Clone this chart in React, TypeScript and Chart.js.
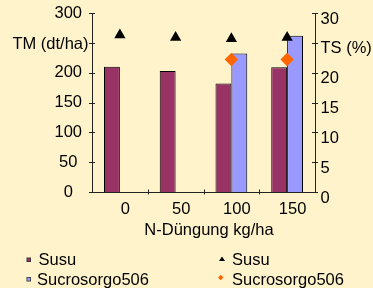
import React, { useEffect, useRef } from "react";
import { Chart, registerables } from "chart.js";

Chart.register(...registerables);

const categories = ["0", "50", "100", "150"];
const tmSusu = [210, 203, 182, 209];
const tmSucro = [null, null, 232, 262];
const tsSusu = [26.3, 25.9, 25.7, 25.9];
const tsSucro = [null, null, 22.2, 22.2];
const leftTicks = [0, 50, 100, 150, 200, 250, 300];
const rightTicks = [0, 5, 10, 15, 20, 25, 30];
const leftTitle = "TM (dt/ha)";
const rightTitle = "TS (%)";
const xTitle = "N-Düngung kg/ha";

const FONT = '"Liberation Sans", Arial, sans-serif';
const BG = "#FFF3CC";

const decorPlugin = {
  id: "decor",
  afterDraw(chart: any) {
    const ctx = chart.ctx;
    const x = chart.scales.x;
    const y = chart.scales.y;
    const y1 = chart.scales.y1;
    const area = chart.chartArea;
    ctx.save();
    ctx.strokeStyle = "#222";
    ctx.lineWidth = 1;
    leftTicks.forEach((v) => {
      const p = Math.round(y.getPixelForValue(v)) + 0.5;
      ctx.beginPath();
      ctx.moveTo(area.left - 3, p);
      ctx.lineTo(area.left + 3, p);
      ctx.stroke();
    });
    rightTicks.forEach((v) => {
      const p = Math.round(y1.getPixelForValue(v)) + 0.5;
      ctx.beginPath();
      ctx.moveTo(area.right - 3, p);
      ctx.lineTo(area.right + 3, p);
      ctx.stroke();
    });
    for (let i = 0; i < categories.length - 1; i++) {
      const p = Math.round((x.getPixelForValue(i) + x.getPixelForValue(i + 1)) / 2) + 0.5;
      ctx.beginPath();
      ctx.moveTo(p, area.bottom - 2.5);
      ctx.lineTo(p, area.bottom + 2.5);
      ctx.stroke();
    }
    ctx.fillStyle = "#000";
    ctx.font = `16.5px ${FONT}`;
    ctx.textBaseline = "middle";
    ctx.textAlign = "right";
    ctx.fillText(leftTitle, 88.5, y.getPixelForValue(250) + 1.5);
    ctx.textAlign = "center";
    ctx.fillText(xTitle, (area.left + area.right) / 2 + 5.5, 230.5);

    const ds = chart.data.datasets;
    ctx.textAlign = "left";
    const drawSquare = (cx: number, cy: number, fill: string) => {
      ctx.fillStyle = "#333";
      ctx.fillRect(cx - 2, cy - 2, 4.5, 4.5);
      ctx.fillStyle = fill;
      ctx.fillRect(cx - 1.2, cy - 1.2, 2.9, 2.9);
    };
    drawSquare(28.5, 259.5, ds[2].backgroundColor);
    drawSquare(28.5, 279, ds[3].backgroundColor);
    ctx.fillStyle = "#000";
    ctx.fillText(ds[2].label, 38.5, 260);
    ctx.fillText(ds[3].label, 37, 280);
    ctx.fillStyle = ds[0].backgroundColor;
    ctx.beginPath();
    ctx.moveTo(222, 256.5);
    ctx.lineTo(225, 261);
    ctx.lineTo(219, 261);
    ctx.closePath();
    ctx.fill();
    ctx.fillStyle = ds[1].backgroundColor;
    ctx.beginPath();
    ctx.moveTo(220.7, 274.8);
    ctx.lineTo(223.4, 277.5);
    ctx.lineTo(220.7, 280.2);
    ctx.lineTo(218, 277.5);
    ctx.closePath();
    ctx.fill();
    ctx.fillStyle = "#000";
    ctx.fillText(ds[0].label, 232, 260);
    ctx.fillText(ds[1].label, 232, 280);
    ctx.restore();
  },
};

export default function App() {
  const ref = useRef<HTMLCanvasElement>(null);
  useEffect(() => {
    if (!ref.current) return;
    const chart = new Chart(ref.current, {
      type: "bar",
      data: {
        labels: categories,
        datasets: [
          {
            type: "line",
            label: "Susu",
            data: tsSusu,
            yAxisID: "y1",
            showLine: false,
            pointStyle: "triangle",
            pointRadius: 6.5,
            pointBorderWidth: 0,
            backgroundColor: "#000000",
            borderColor: "#000000",
            order: 1,
          } as any,
          {
            type: "line",
            label: "Sucrosorgo506",
            data: tsSucro,
            yAxisID: "y1",
            showLine: false,
            pointStyle: "rectRot",
            pointRadius: 6.7,
            pointBorderWidth: 0,
            backgroundColor: "#FF6600",
            borderColor: "#FF6600",
            order: 1,
          } as any,
          {
            type: "bar",
            label: "Susu",
            data: tmSusu,
            yAxisID: "y",
            backgroundColor: "#993366",
            borderColor: "#000000",
            borderWidth: 1,
            categoryPercentage: 0.57,
            barPercentage: 1,
            order: 2,
          },
          {
            type: "bar",
            label: "Sucrosorgo506",
            data: tmSucro,
            yAxisID: "y",
            backgroundColor: "#9999FF",
            borderColor: "#000000",
            borderWidth: 1,
            categoryPercentage: 0.57,
            barPercentage: 1,
            order: 2,
          },
        ],
      },
      options: {
        responsive: false,
        animation: false,
        layout: { padding: { top: 13, left: 0, right: 0, bottom: 0 } },
        plugins: { legend: { display: false }, tooltip: { enabled: false } },
        scales: {
          x: {
            offset: true,
            grid: { display: false, drawTicks: false },
            border: { display: true, color: "#222", width: 1 },
            ticks: {
              color: "#000",
              font: { family: FONT, size: 16.5 },
              padding: 7.6,
              labelOffset: 5.5,
              maxRotation: 0,
            },
            afterFit: (s: any) => {
              s.height = 96;
              s.paddingLeft = 0;
              s.paddingRight = 0;
            },
          },
          y: {
            position: "left",
            min: 0,
            max: 300,
            grid: { display: false, drawTicks: false },
            border: { display: true, color: "#222", width: 1 },
            ticks: {
              stepSize: 50,
              color: "#000",
              font: { family: FONT, size: 16.5 },
              padding: 10,
              crossAlign: "center",
              callback: (v: any) => (v === 250 ? "" : v),
            },
            afterFit: (s: any) => {
              s.width = 92;
              s.paddingTop = 0;
              s.paddingBottom = 0;
            },
          },
          y1: {
            position: "right",
            min: 0,
            max: 30,
            grid: { display: false, drawTicks: false },
            border: { display: true, color: "#222", width: 1 },
            ticks: {
              stepSize: 5,
              color: "#000",
              font: { family: FONT, size: 16.5 },
              padding: 5.5,
              labelOffset: 6,
              callback: (v: any) => (v === 25 ? rightTitle : v),
            },
            afterFit: (s: any) => {
              s.width = 58;
              s.paddingTop = 0;
              s.paddingBottom = 0;
            },
          },
        },
      },
      plugins: [decorPlugin],
    });
    return () => chart.destroy();
  }, []);
  return (
    <div
      style={{
        position: "fixed",
        left: 0,
        top: 0,
        width: 373,
        height: 288,
        background: BG,
      }}
    >
      <canvas ref={ref} width={373} height={288} style={{ display: "block" }} />
    </div>
  );
}
